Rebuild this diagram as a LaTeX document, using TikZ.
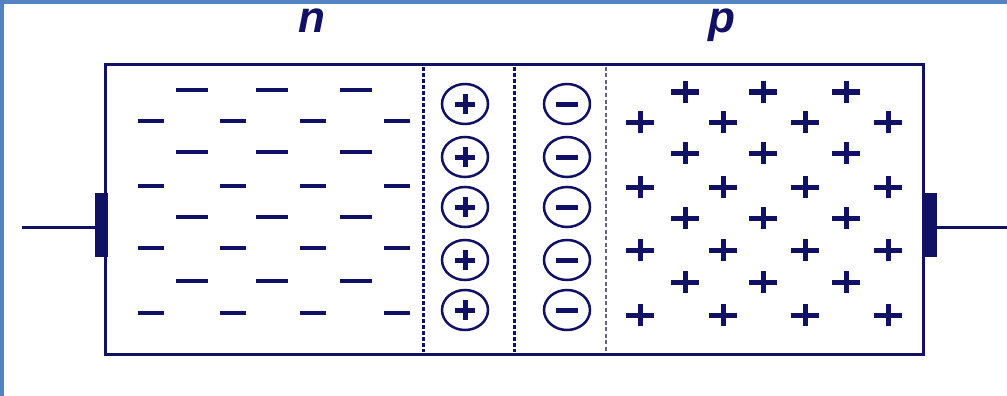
\documentclass[tikz,border=0pt]{standalone}
\usepackage{fontspec}
\newfontfamily\labelfont{Liberation Sans}
\definecolor{ink}{RGB}{16,16,100}
\definecolor{framecol}{RGB}{84,130,190}
\definecolor{lightdash}{RGB}{100,100,130}
\begin{document}
\begin{tikzpicture}[x=1pt,y=-1pt,
  minussign/.style={ink,line width=4.5pt},
  plussign/.style={ink,line width=5pt},
  ring/.style={ink,line width=2.5pt},
  junction/.style={ink,line width=3pt,dash pattern=on 4pt off 2pt},
  junctionlight/.style={lightdash,line width=2.2pt,dash pattern=on 4pt off 2.5pt},
  wire/.style={ink,line width=3pt},
  lbl/.style={ink,font=\labelfont\bfseries\itshape\fontsize{44}{44}\selectfont,inner sep=0pt,anchor=base}]
\fill[framecol] (0,0) rectangle (1007,396);
\fill[white] (4,4) rectangle (1007,396);
\useasboundingbox (0,0) rectangle (1007,396);
% labels
\node[lbl] (nlabel) at (312,33) {n};
\node[lbl] (plabel) at (722,33) {p};
% terminals
\coordinate (lend) at (22,227);
\coordinate (rend) at (1007,227);
\fill[ink] (95,193) rectangle (108,257);
\fill[ink] (922,193) rectangle (937,257);
\coordinate (lt) at (95,227);
\coordinate (rt) at (937,227);
\draw[wire] (lend) -- (lt);
\draw[wire] (rt) -- (rend);
% main box
\draw[ink,line width=3pt] (105,65) rectangle (923,354);
% junction lines
\draw[junction] (423,67) -- (423,352);
\draw[junction] (514,67) -- (514,352);
\draw[junctionlight] (606,67) -- (606,352);
% n region minus signs
\foreach \y in {90,152,217,281}
  \foreach \x in {192,272,356}
    \draw[minussign] (\x-16,\y) -- (\x+16,\y);
\foreach \y in {121,186,248,313}
  \foreach \x in {151,233,313,397}
    \draw[minussign] (\x-13,\y) -- (\x+13,\y);
% p region plus signs
\foreach \y in {92,153,218,282}
  \foreach \x in {685,763,846}
    \draw[plussign] (\x-14,\y) -- (\x+14,\y) (\x,\y-11) -- (\x,\y+11);
\foreach \y in {122,187,250,315}
  \foreach \x in {640,723,805,888}
    \draw[plussign] (\x-14,\y) -- (\x+14,\y) (\x,\y-11) -- (\x,\y+11);
% depletion ions
\foreach \y in {104,157,207,260,310} {
  \draw[ring] (465,\y) ellipse (23 and 20);
  \draw[plussign] (455,\y) -- (475,\y) (465,\y-10) -- (465,\y+10);
  \draw[ring] (567,\y) ellipse (23 and 20);
  \draw[plussign] (556,\y) -- (578,\y);
}
\end{tikzpicture}
\end{document}
